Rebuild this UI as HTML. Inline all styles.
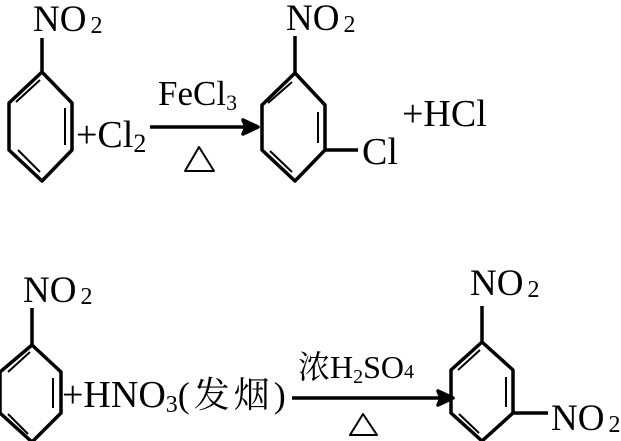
<!DOCTYPE html>
<html><head><meta charset="utf-8"><style>
html,body{margin:0;padding:0;background:#fff;}
svg{display:block;}
text{font-family:"Liberation Serif","Noto Serif CJK SC",serif;fill:#000;}
</style></head><body>
<svg width="621" height="441" viewBox="0 0 621 441" xmlns="http://www.w3.org/2000/svg">
<g stroke="#000" stroke-width="3.5" fill="none" stroke-linejoin="round">
<polygon points="42,72 72,103 72,150 42,181 9,150 9,103"/>
<line x1="42" y1="72" x2="42" y2="38"/>
<line x1="16" y1="102" x2="40" y2="80" stroke-width="2"/>
<line x1="65" y1="108" x2="65" y2="145" stroke-width="2"/>
<line x1="18" y1="150" x2="40" y2="172" stroke-width="2"/>
<line x1="150" y1="127" x2="250" y2="127"/>
<polygon points="258,127 243,120 246,127 243,134" fill="#000"/>
<polygon points="199,147 185,171 214,171" stroke-width="2"/>
<polygon points="295,73 325,105 325,150 295,181 262,150 262,105"/>
<line x1="295" y1="73" x2="295" y2="36"/>
<line x1="268" y1="103" x2="292" y2="82" stroke-width="2"/>
<line x1="318" y1="112" x2="318" y2="143" stroke-width="2"/>
<line x1="270" y1="151" x2="292" y2="172" stroke-width="2"/>
<line x1="325" y1="150" x2="358" y2="150"/>
<polygon points="32,345 61,372 61,413 32,442 0,413 0,372"/>
<line x1="32" y1="345" x2="32" y2="308"/>
<line x1="8" y1="372" x2="30" y2="352" stroke-width="2"/>
<line x1="53" y1="378" x2="53" y2="408" stroke-width="2"/>
<line x1="8" y1="414" x2="28" y2="434" stroke-width="2"/>
<line x1="292" y1="398" x2="445" y2="398"/>
<polygon points="453,398 438,391 441,398 438,405" fill="#000"/>
<polygon points="363,414 350,435 377,435" stroke-width="2"/>
<polygon points="482,342 513,370 513,413 482,441 451,413 451,370"/>
<line x1="482" y1="342" x2="482" y2="306"/>
<line x1="458" y1="370" x2="480" y2="350" stroke-width="2"/>
<line x1="506" y1="377" x2="506" y2="407" stroke-width="2"/>
<line x1="459" y1="414" x2="479" y2="433" stroke-width="2"/>
<line x1="513" y1="413" x2="548" y2="413"/>
</g>
<text x="33" y="31" font-size="37">NO<tspan font-size="24" dx="4" dy="2">2</tspan></text>
<text x="76" y="147" font-size="38">+Cl<tspan font-size="26" dy="5">2</tspan></text>
<text x="158" y="105" font-size="35">FeCl<tspan font-size="22" dy="5">3</tspan></text>
<text x="286" y="30" font-size="37">NO<tspan font-size="24" dx="4" dy="2">2</tspan></text>
<text x="362" y="164" font-size="38">Cl</text>
<text x="402" y="126" font-size="38">+HCl</text>
<text x="23" y="302" font-size="37">NO<tspan font-size="24" dx="4" dy="2">2</tspan></text>
<text x="62" y="407" font-size="38">+HNO<tspan font-size="24" dy="5">3</tspan><tspan dy="-5" font-size="36" letter-spacing="4">(发烟)</tspan></text>
<text x="298" y="378" font-size="32">浓H<tspan font-size="20" dy="5">2</tspan><tspan dy="-5">SO</tspan><tspan font-size="20" dy="0">4</tspan></text>
<text x="470" y="295" font-size="37">NO<tspan font-size="24" dx="4" dy="2">2</tspan></text>
<text x="551" y="430" font-size="37">NO<tspan font-size="24" dx="4" dy="2">2</tspan></text>
</svg>
</body></html>
